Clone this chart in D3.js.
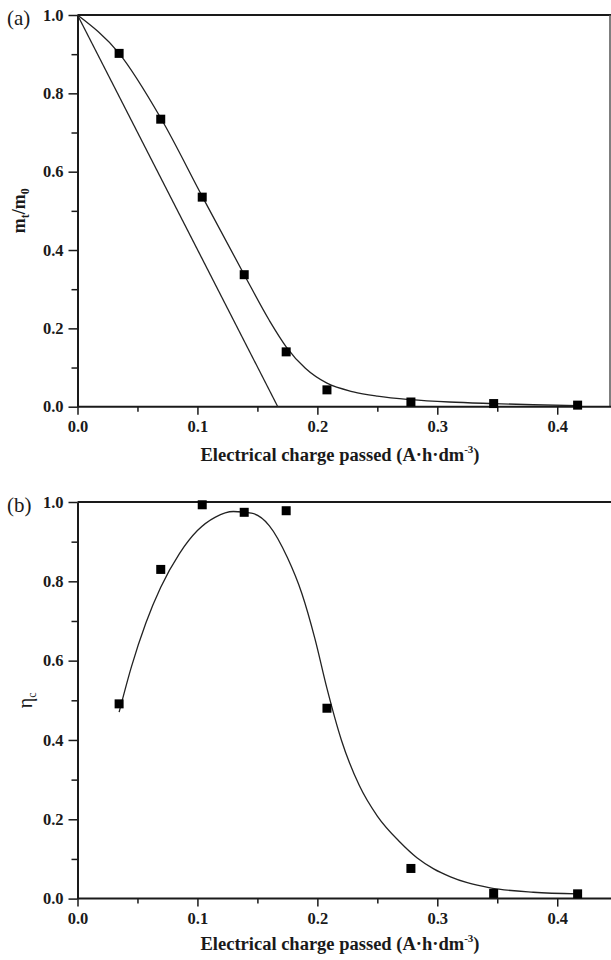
<!DOCTYPE html>
<html>
<head>
<meta charset="utf-8">
<script src="https://cdn.jsdelivr.net/npm/d3@7"></script>
<style>
  body { margin: 0; background: #fff; }
  svg { display: block; font-family: "Liberation Serif", "Times New Roman", serif; }
</style>
</head>
<body>
<svg id="chart" width="611" height="960"></svg>
<script>
// Charge passed for every measured sample (A·h·dm-3)
const chargeX = [0.0347, 0.0694, 0.104, 0.139, 0.174, 0.208, 0.278, 0.347, 0.417];

// (a) remaining mass ratio mt/m0
const massRatio = [0.902, 0.734, 0.535, 0.337, 0.14, 0.043, 0.012, 0.008, 0.004];
const massFitX = [0, 0.0347, 0.0694, 0.104, 0.139, 0.16, 0.174, 0.19, 0.208, 0.23, 0.25, 0.278, 0.31, 0.347, 0.38, 0.417];
const massFitY = [1.0, 0.902, 0.737, 0.537, 0.337, 0.22, 0.153, 0.098, 0.060, 0.038, 0.027, 0.018, 0.012, 0.008, 0.005, 0.003];
const idealX = [0, 0.167];
const idealY = [1.0, 0.0];

// (b) current efficiency
const efficiency = [0.491, 0.83, 0.993, 0.974, 0.978, 0.48, 0.076, 0.013, 0.012];
const effFitX = [0.0347, 0.045, 0.057, 0.0694, 0.085, 0.1, 0.115, 0.13, 0.145, 0.16, 0.175, 0.187, 0.198, 0.208, 0.22, 0.235, 0.25, 0.269, 0.283, 0.297, 0.311, 0.325, 0.344, 0.38, 0.417];
const effFitY = [0.47, 0.585, 0.695, 0.785, 0.87, 0.928, 0.962, 0.976, 0.972, 0.94, 0.86, 0.77, 0.655, 0.53, 0.40, 0.285, 0.208, 0.142, 0.103, 0.075, 0.055, 0.040, 0.027, 0.016, 0.012];

const xTicks = [0, 0.1, 0.2, 0.3, 0.4];
const xMinor = [0.05, 0.15, 0.25, 0.35];
const yTicks = [0, 0.2, 0.4, 0.6, 0.8, 1.0];
const yMinor = [0.1, 0.3, 0.5, 0.7, 0.9];

const svg = d3.select("#chart");
const ink = "#1a1a1a";

const x = d3.scaleLinear().domain([0, 0.444]).range([77.5, 610]);

function drawPanel(opts) {
    const y = d3.scaleLinear().domain([0, 1]).range([opts.bottom, opts.top]);
    const g = svg.append("g");

    // box lines
    g.append("line").attr("x1", x.range()[0]).attr("x2", 611)
        .attr("y1", opts.top).attr("y2", opts.top)
        .attr("stroke", ink).attr("stroke-width", 2);
    if (opts.rightBorder) {
        g.append("line").attr("x1", 610).attr("x2", 610)
            .attr("y1", opts.top).attr("y2", opts.bottom)
            .attr("stroke", "#555").attr("stroke-width", 1.5);
    }

    // minor ticks
    g.append("g").attr("transform", `translate(0,${opts.bottom})`)
        .call(d3.axisBottom(x).tickValues(xMinor).tickSize(5).tickFormat(""))
        .call(a => a.select(".domain").remove())
        .selectAll("line").attr("stroke", ink).attr("stroke-width", 1.5);
    g.append("g").attr("transform", `translate(${x.range()[0]},0)`)
        .call(d3.axisLeft(y).tickValues(yMinor).tickSize(6).tickFormat(""))
        .call(a => a.select(".domain").remove())
        .selectAll("line").attr("stroke", ink).attr("stroke-width", 1.5);

    // major axes
    const xAxis = g.append("g").attr("transform", `translate(0,${opts.bottom})`)
        .call(d3.axisBottom(x).tickValues(xTicks).tickSize(8).tickSizeOuter(0).tickPadding(6).tickFormat(d3.format(".1f")));
    xAxis.select(".domain").attr("d", `M${x.range()[0]},0H611`);
    const yAxis = g.append("g").attr("transform", `translate(${x.range()[0]},0)`)
        .call(d3.axisLeft(y).tickValues(yTicks).tickSize(9).tickSizeOuter(0).tickPadding(5).tickFormat(d3.format(".1f")));
    [xAxis, yAxis].forEach(a => {
        a.select(".domain").attr("stroke", ink).attr("stroke-width", 2);
        a.selectAll(".tick line").attr("stroke", ink).attr("stroke-width", 1.5);
        a.selectAll(".tick text").attr("fill", ink)
            .attr("font-family", "Liberation Serif, serif")
            .attr("font-weight", "bold").attr("font-size", 16.5);
    });

    // fitted curves
    opts.lines.forEach(l => {
        const pts = l.xs.map((v, i) => [v, l.ys[i]]);
        g.append("path")
            .attr("d", d3.line().x(d => x(d[0])).y(d => y(d[1])).curve(l.curve)(pts))
            .attr("fill", "none").attr("stroke", "#222").attr("stroke-width", 1.3);
    });

    // markers
    g.selectAll(".pt").data(chargeX.map((v, i) => [v, opts.values[i]]))
        .enter().append("rect")
        .attr("x", d => x(d[0]) - 4.5).attr("y", d => y(d[1]) - 4.5)
        .attr("width", 9).attr("height", 9).attr("fill", "#000");

    // panel letter
    g.append("text").attr("x", 7).attr("y", opts.top + 10)
        .attr("font-size", 21).attr("fill", ink).text(opts.letter);

    // x title
    const t = g.append("text").attr("x", 340).attr("y", opts.bottom + opts.titleGap)
        .attr("text-anchor", "middle").attr("font-weight", "bold")
        .attr("font-size", 18.5).attr("fill", ink);
    t.append("tspan").text("Electrical charge passed (A·h·dm");
    t.append("tspan").attr("font-size", 11).attr("dy", -8).text("-3");
    t.append("tspan").attr("dy", 8).text(")");

    return { g, y };
}

const pa = drawPanel({
    top: 15, bottom: 406.7, letter: "(a)", rightBorder: true, titleGap: 54,
    values: massRatio,
    lines: [
        { xs: massFitX, ys: massFitY, curve: d3.curveMonotoneX },
        { xs: idealX, ys: idealY, curve: d3.curveLinear }
    ]
});
const yt = pa.g.append("text")
    .attr("transform", `translate(25,${(15 + 406.7) / 2}) rotate(-90)`)
    .attr("text-anchor", "middle").attr("font-weight", "bold")
    .attr("font-size", 18).attr("fill", ink);
yt.append("tspan").text("m");
yt.append("tspan").attr("font-size", 12).attr("dy", 4).text("t");
yt.append("tspan").attr("dy", -4).text("/m");
yt.append("tspan").attr("font-size", 12).attr("dy", 4).text("0");

const pb = drawPanel({
    top: 502, bottom: 898.6, letter: "(b)", rightBorder: false, titleGap: 51,
    values: efficiency,
    lines: [
        { xs: effFitX, ys: effFitY, curve: d3.curveMonotoneX }
    ]
});
const yb = pb.g.append("text")
    .attr("transform", `translate(32,${(502 + 898.6) / 2}) rotate(-90)`)
    .attr("text-anchor", "middle")
    .attr("font-size", 20).attr("fill", ink);
yb.append("tspan").text("η");
yb.append("tspan").attr("font-size", 12).attr("dy", 4).text("c");
</script>
</body>
</html>
